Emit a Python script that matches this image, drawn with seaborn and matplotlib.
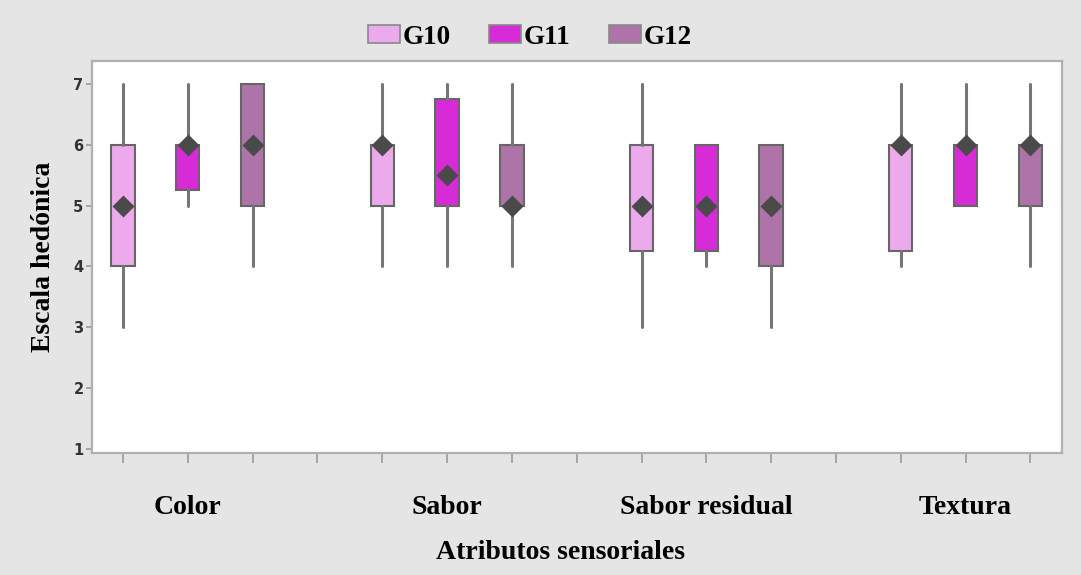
import matplotlib
matplotlib.use("Agg")
import matplotlib.pyplot as plt
import matplotlib.patches as mpatches
import seaborn as sns
import pandas as pd

# ---- data ----
categories = ["Color", "Sabor", "Sabor residual", "Textura"]
series = ["G10", "G11", "G12"]

g10_min = [3, 4, 3, 4]
g10_q1 = [4, 5, 4.25, 4.25]
g10_med = [5, 6, 5, 6]
g10_q3 = [6, 6, 6, 6]
g10_max = [7, 7, 7, 7]

g11_min = [5, 4, 4, 5]
g11_q1 = [5.25, 5, 4.25, 5]
g11_med = [6, 5.5, 5, 6]
g11_q3 = [6, 6.75, 6, 6]
g11_max = [7, 7, 6, 7]

g12_min = [4, 4, 3, 4]
g12_q1 = [5, 5, 4, 5]
g12_med = [6, 5, 5, 6]
g12_q3 = [7, 6, 6, 6]
g12_max = [7, 7, 6, 7]

y_ticks = [1, 2, 3, 4, 5, 6, 7]

colors = {"G10": "#ecaaec", "G11": "#d82bd8", "G12": "#ae74a9"}

stats_by_series = {
    "G10": (g10_min, g10_q1, g10_med, g10_q3, g10_max),
    "G11": (g11_min, g11_q1, g11_med, g11_q3, g11_max),
    "G12": (g12_min, g12_q1, g12_med, g12_q3, g12_max),
}

sns.set_theme(style="white")
plt.rcParams["font.family"] = ["DejaVu Sans"]

fig = plt.figure(figsize=(10.81, 5.75), dpi=100, facecolor="#e5e5e5")
ax = fig.add_axes([0.085, 0.212, 0.897, 0.682])
ax.set_facecolor("white")

rows = []
for si, s in enumerate(series):
    mn, q1, md, q3, mx = stats_by_series[s]
    for ci, c in enumerate(categories):
        pos = ci * 4 + si
        st = dict(whislo=mn[ci], q1=q1[ci], med=md[ci], q3=q3[ci], whishi=mx[ci], fliers=[])
        ax.bxp([st], positions=[pos], widths=0.36, patch_artist=True, showcaps=False,
               showfliers=False, manage_ticks=False,
               boxprops=dict(facecolor=colors[s], edgecolor="#666666", linewidth=1.5),
               whiskerprops=dict(color="#767676", linewidth=2.2),
               medianprops=dict(linewidth=0))
        rows.append(dict(pos=pos, med=md[ci], serie=s))

df = pd.DataFrame(rows)
sns.scatterplot(data=df, x="pos", y="med", marker="D", s=125, color="#4a4a4a",
                edgecolor="#4a4a4a", linewidth=0, zorder=5, legend=False, ax=ax)

ax.set_xlim(-0.48, 14.48)
ax.set_ylim(0.93, 7.38)
ax.set_yticks(y_ticks)
ax.set_yticklabels([str(v) for v in y_ticks])

# minor ticks at every slot, major (labelled) at group centres
ax.xaxis.remove_overlapping_locs = False
ax.set_xticks([i for i in range(15)], minor=True)
ax.set_xticks([ci * 4 + 1 for ci in range(len(categories))])
ax.set_xticklabels(categories, family=["Liberation Serif"], fontweight="bold", fontsize=20,
                   color="black")
ax.tick_params(axis="x", which="major", length=0, pad=30)
ax.tick_params(axis="x", which="minor", length=7, width=1.2, color="#9a9a9a", bottom=True)
ax.tick_params(axis="y", length=4, width=1.2, color="#9a9a9a", labelsize=10.5,
               labelcolor="#333333", left=True, pad=2)
for lab in ax.get_yticklabels():
    lab.set_fontweight("bold")

for side in ["left", "bottom", "top", "right"]:
    ax.spines[side].set_color("#b0b0b0")
    ax.spines[side].set_linewidth(1.6)

ax.set_xlabel("Atributos sensoriales", family=["Liberation Serif"], fontweight="bold",
              fontsize=20, color="black")
ax.xaxis.set_label_coords(0.483, -0.222)
ax.set_ylabel("Escala hedónica", family=["Liberation Serif"], fontweight="bold", fontsize=20,
              color="black")
ax.yaxis.set_label_coords(-0.037, 0.5)

handles = [mpatches.Patch(facecolor=colors[s], edgecolor="#888888", linewidth=1.2, label=s)
           for s in series]
leg = fig.legend(handles=handles, loc="center", bbox_to_anchor=(0.49, 0.935), ncol=3,
                 frameon=False, handlelength=1.2, handleheight=0.65, handletextpad=0.1,
                 columnspacing=1.4, prop={"family": "Liberation Serif", "weight": "bold",
                                          "size": 19.5})
for t in leg.get_texts():
    t.set_color("black")

fig.savefig("out.png", dpi=100, facecolor=fig.get_facecolor())
